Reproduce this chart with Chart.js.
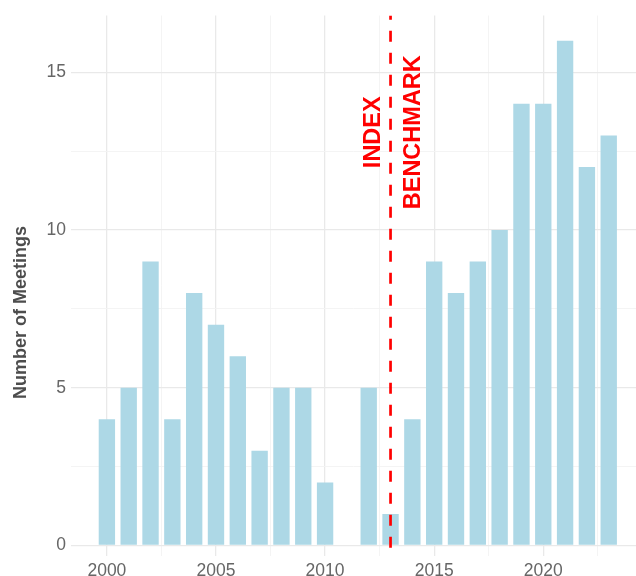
<!DOCTYPE html>
<html>
<head>
<meta charset="utf-8">
<script src="https://cdn.jsdelivr.net/npm/chart.js@4/dist/chart.umd.min.js"></script>
<style>
  html, body { margin: 0; padding: 0; background: #ffffff; }
  #wrap { width: 636px; height: 576px; position: relative; }
</style>
</head>
<body>
<div id="wrap"><canvas id="c" width="636" height="576"></canvas></div>
<script>
// ---- data ----
const years = [2000, 2001, 2002, 2003, 2004, 2005, 2006, 2007, 2008, 2009, 2010, 2011,
               2012, 2013, 2014, 2015, 2016, 2017, 2018, 2019, 2020, 2021, 2022, 2023];
const meetings = [4, 5, 9, 4, 8, 7, 6, 3, 5, 5, 2, 0,
                  5, 1, 4, 9, 8, 9, 10, 14, 14, 16, 12, 13];
const benchmarkYear = 2013;
const annotationLabels = ['INDEX', 'BENCHMARK'];
const yTitle = 'Number of Meetings';
const xTickValues = [2000, 2002.5, 2005, 2007.5, 2010, 2012.5, 2015, 2017.5, 2020, 2022.5];
const yTickValues = [0, 2.5, 5, 7.5, 10, 12.5, 15];

const X_MIN = 1998.355, X_MAX = 2024.25;
const Y_MIN = -0.32, Y_MAX = 16.8;

const barPoints = years.map((y, i) => ({ x: y, y: meetings[i] }));
const vlinePoints = [{ x: benchmarkYear, y: Y_MAX }, { x: benchmarkYear, y: Y_MIN }];

const FONT = "'Liberation Sans', Arial, Helvetica, sans-serif";
const isMajor = v => Math.abs(v % 5) < 1e-9;
const tickMajor = c => !!(c && c.tick && isMajor(c.tick.value));

const overlay = {
  id: 'overlay',
  afterDatasetsDraw(chart) {
    const ctx = chart.ctx;
    const xs = chart.scales.x, ys = chart.scales.y;
    const px = xs.getPixelForValue(benchmarkYear);
    const py = ys.getPixelForValue(13.1);
    ctx.save();
    ctx.fillStyle = '#ff0000';
    ctx.font = 'bold 23.5px ' + FONT;
    ctx.textAlign = 'center';
    ctx.textBaseline = 'alphabetic';
    ctx.save();
    ctx.translate(px - 10.4, py);
    ctx.rotate(-Math.PI / 2);
    ctx.fillText(annotationLabels[0], 0, 0);
    ctx.restore();
    ctx.save();
    ctx.translate(px + 29, py);
    ctx.rotate(-Math.PI / 2);
    ctx.fillText(annotationLabels[1], 0, 0);
    ctx.restore();
    ctx.restore();
  },
  afterDraw(chart) {
    const ctx = chart.ctx;
    ctx.save();
    ctx.fillStyle = '#4d4d4d';
    ctx.font = 'bold 18px ' + FONT;
    ctx.textAlign = 'center';
    ctx.textBaseline = 'alphabetic';
    ctx.translate(26, 312.5);
    ctx.rotate(-Math.PI / 2);
    ctx.fillText(yTitle, 0, 0);
    ctx.restore();
  }
};

const gridOpts = {
  drawTicks: false,
  offset: false,
  color: c => tickMajor(c) ? '#e9e9e9' : '#f3f3f3',
  lineWidth: c => tickMajor(c) ? 1.3 : 0.9
};

new Chart(document.getElementById('c'), {
  type: 'bar',
  data: {
    datasets: [
      {
        type: 'bar',
        data: barPoints,
        backgroundColor: '#ADD8E6',
        borderWidth: 0,
        barPercentage: 0.75,
        categoryPercentage: 1.0,
        order: 2
      },
      {
        type: 'line',
        data: vlinePoints,
        borderColor: '#ff0000',
        borderWidth: 2.7,
        borderDash: [11, 11],
        borderDashOffset: 6.8,
        pointRadius: 0,
        fill: false,
        tension: 0,
        order: 1
      }
    ]
  },
  options: {
    responsive: false,
    animation: false,
    devicePixelRatio: 1,
    layout: { padding: { top: 14, left: 0, right: 0, bottom: 0 } },
    plugins: {
      legend: { display: false },
      tooltip: { enabled: false },
      title: { display: false }
    },
    scales: {
      x: {
        type: 'linear',
        min: X_MIN,
        max: X_MAX,
        offset: false,
        afterBuildTicks: s => { s.ticks = xTickValues.map(v => ({ value: v })); },
        afterFit: s => { s.height = 20.4; },
        border: { display: false },
        grid: gridOpts,
        ticks: {
          autoSkip: false,
          maxRotation: 0,
          padding: 5,
          color: '#666666',
          font: { family: FONT, size: 17.5 },
          callback: v => isMajor(v) ? String(v) : ''
        }
      },
      y: {
        type: 'linear',
        min: Y_MIN,
        max: Y_MAX,
        afterBuildTicks: s => { s.ticks = yTickValues.map(v => ({ value: v })); },
        afterFit: s => { s.width = 71; },
        border: { display: false },
        grid: gridOpts,
        ticks: {
          padding: 5,
          color: '#666666',
          font: { family: FONT, size: 17.5 },
          callback: v => isMajor(v) ? String(v) : ''
        }
      }
    }
  },
  plugins: [overlay]
});
</script>
</body>
</html>
